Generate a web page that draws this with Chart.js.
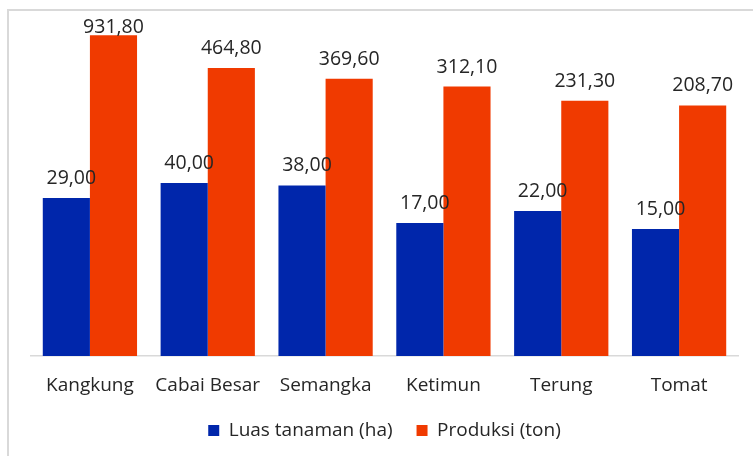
<!DOCTYPE html>
<html>
<head>
<meta charset="utf-8">
<script src="https://cdn.jsdelivr.net/npm/chart.js@4.4.1/dist/chart.umd.min.js"></script>
<style>
  html, body { margin: 0; padding: 0; background: #fff; overflow: hidden; }
  #wrap { position: absolute; left: 0; top: 0; width: 753px; height: 456px; }
  #frame { position: absolute; left: 7px; top: 9px; width: 800px; height: 500px; border: 2px solid #d9d9d9; }
  #BarChart { position: absolute; left: 0; top: 0; }
</style>
</head>
<body>
<div id="wrap">
  <div id="frame"></div>
  <canvas id="BarChart" width="753" height="456"></canvas>
</div>
<script>
const categories = ["Kangkung", "Cabai Besar", "Semangka", "Ketimun", "Terung", "Tomat"];
const luasTanaman = [29.0, 40.0, 38.0, 17.0, 22.0, 15.0];
const produksi = [931.8, 464.8, 369.6, 312.1, 231.3, 208.7];

const fontFamily = "'Open Sans', 'Noto Sans', sans-serif";
const textColor = "#262626";

// angka di atas batang, format koma (id-ID)
const valueLabels = {
  id: "valueLabels",
  afterDatasetsDraw(chart) {
    const ctx = chart.ctx;
    ctx.save();
    ctx.font = "19.5px " + fontFamily;
    ctx.fillStyle = textColor;
    ctx.textAlign = "center";
    ctx.textBaseline = "alphabetic";
    chart.data.datasets.forEach((ds, i) => {
      const meta = chart.getDatasetMeta(i);
      meta.data.forEach((bar, j) => {
        const txt = ds.data[j].toFixed(2).replace(".", ",");
        const shift = i === 0 ? 5 : 0;
        const y = Math.max(bar.y - 14, 33);
        ctx.fillText(txt, bar.x + shift, y);
      });
    });
    ctx.restore();
  }
};

const barCTX = document.getElementById("BarChart").getContext("2d");

const dataBar = {
  labels: categories,
  datasets: [
    {
      label: "Luas tanaman (ha)",
      data: luasTanaman,
      backgroundColor: "#0026ab",
      borderWidth: 0,
    },
    {
      label: "Produksi (ton)",
      data: produksi,
      backgroundColor: "#f03a00",
      borderWidth: 0,
    },
  ],
};

const configBar = {
  type: "bar",
  data: dataBar,
  plugins: [valueLabels],
  options: {
    responsive: false,
    animation: false,
    categoryPercentage: 0.8,
    barPercentage: 1.0,
    layout: {
      padding: { top: 32, left: 31, right: 15, bottom: 6 },
    },
    plugins: {
      legend: {
        display: true,
        position: "bottom",
        labels: {
          color: textColor,
          font: { family: fontFamily, size: 19 },
          boxWidth: 11,
          boxHeight: 11,
          padding: 24,
        },
      },
      tooltip: { enabled: false },
    },
    scales: {
      x: {
        grid: { display: false, drawTicks: false },
        border: { display: true, color: "#d9d9d9", width: 1.5 },
        ticks: {
          color: textColor,
          font: { family: fontFamily, size: 19 },
          padding: 18,
        },
        afterFit(scale) {
          scale.height = 41;
        },
      },
      y: {
        type: "logarithmic",
        display: false,
        min: 1,
        max: 1000,
      },
    },
  },
};

const myBarChart = new Chart(barCTX, configBar);
</script>
</body>
</html>
